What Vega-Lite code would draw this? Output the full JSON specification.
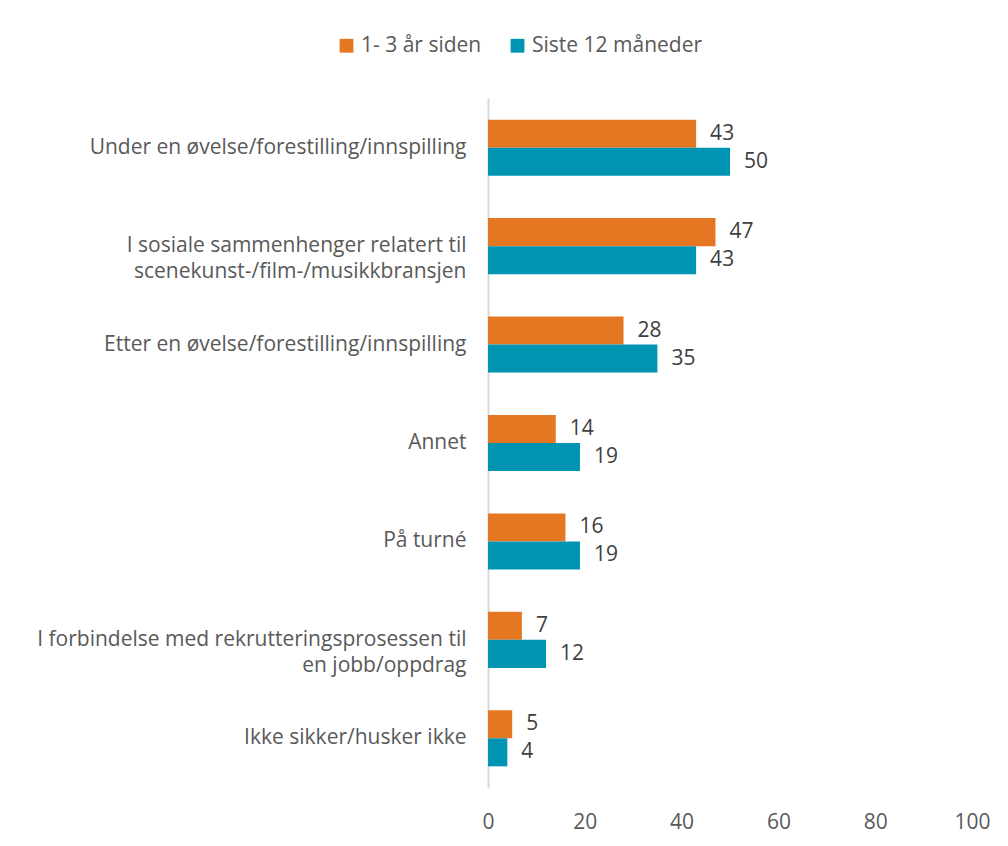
{
  "$schema": "https://vega.github.io/schema/vega-lite/v6.json",
  "width": 484,
  "height": 690,
  "autosize": "none",
  "padding": {"left": 488, "top": 98, "right": 36, "bottom": 58},
  "background": "white",
  "config": {
    "view": {"stroke": null},
    "font": "Open Sans",
    "axis": {"labelFont": "Open Sans", "labelColor": "#595959", "labelFontSize": 21},
    "legend": {"labelFont": "Open Sans", "labelColor": "#595959", "labelFontSize": 21}
  },
  "data": {
    "values": [
      {"kategori": "Under en øvelse/forestilling/innspilling", "periode": "1- 3 år siden", "verdi": 43},
      {"kategori": "Under en øvelse/forestilling/innspilling", "periode": "Siste 12 måneder", "verdi": 50},
      {"kategori": "I sosiale sammenhenger relatert til|scenekunst-/film-/musikkbransjen", "periode": "1- 3 år siden", "verdi": 47},
      {"kategori": "I sosiale sammenhenger relatert til|scenekunst-/film-/musikkbransjen", "periode": "Siste 12 måneder", "verdi": 43},
      {"kategori": "Etter en øvelse/forestilling/innspilling", "periode": "1- 3 år siden", "verdi": 28},
      {"kategori": "Etter en øvelse/forestilling/innspilling", "periode": "Siste 12 måneder", "verdi": 35},
      {"kategori": "Annet", "periode": "1- 3 år siden", "verdi": 14},
      {"kategori": "Annet", "periode": "Siste 12 måneder", "verdi": 19},
      {"kategori": "På turné", "periode": "1- 3 år siden", "verdi": 16},
      {"kategori": "På turné", "periode": "Siste 12 måneder", "verdi": 19},
      {"kategori": "I forbindelse med rekrutteringsprosessen til|en jobb/oppdrag", "periode": "1- 3 år siden", "verdi": 7},
      {"kategori": "I forbindelse med rekrutteringsprosessen til|en jobb/oppdrag", "periode": "Siste 12 måneder", "verdi": 12},
      {"kategori": "Ikke sikker/husker ikke", "periode": "1- 3 år siden", "verdi": 5},
      {"kategori": "Ikke sikker/husker ikke", "periode": "Siste 12 måneder", "verdi": 4}
    ]
  },
  "encoding": {
    "y": {
      "field": "kategori",
      "type": "nominal",
      "sort": null,
      "scale": {"paddingInner": 0.43, "paddingOuter": 0.22},
      "axis": {
        "title": null,
        "ticks": false,
        "domainColor": "#d9d9d9",
        "domainWidth": 2,
        "labelPadding": 22,
        "labelLimit": 480,
        "labelLineHeight": 26,
        "labelExpr": "split(datum.label, '|')"
      }
    },
    "yOffset": {"field": "periode", "type": "nominal", "sort": ["1- 3 år siden", "Siste 12 måneder"], "scale": {"paddingInner": 0, "paddingOuter": 0}},
    "x": {
      "field": "verdi",
      "type": "quantitative",
      "scale": {"domain": [0, 100]},
      "axis": {"title": null, "grid": false, "domain": false, "ticks": false, "values": [0, 20, 40, 60, 80, 100], "labelPadding": 23, "labelFlush": false, "labelOverlap": false}
    }
  },
  "layer": [
    {
      "mark": {"type": "bar"},
      "encoding": {
        "color": {
          "field": "periode",
          "type": "nominal",
          "sort": ["1- 3 år siden", "Siste 12 måneder"],
          "scale": {"domain": ["1- 3 år siden", "Siste 12 måneder"], "range": ["#E67722", "#0094B3"]},
          "legend": {
            "title": null,
            "orient": "none",
            "direction": "horizontal",
            "legendX": -152,
            "legendY": -63,
            "symbolType": "square",
            "symbolSize": 190,
            "symbolStrokeWidth": 0,
            "columnPadding": 25,
            "labelOffset": 4,
            "labelLimit": 400
          }
        }
      }
    },
    {
      "mark": {"type": "text", "align": "left", "dx": 14, "fontSize": 21, "color": "#404040", "font": "Open Sans"},
      "encoding": {"text": {"field": "verdi", "type": "quantitative"}}
    }
  ]
}
